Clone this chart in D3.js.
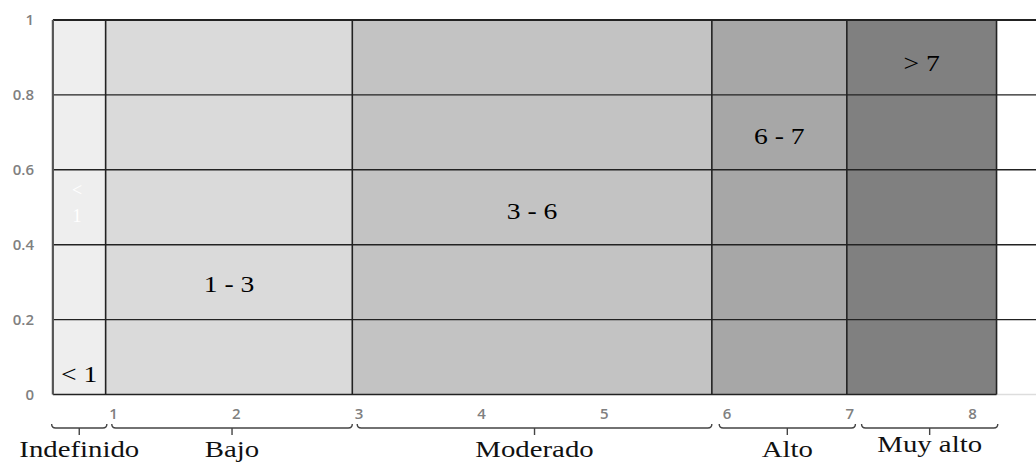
<!DOCTYPE html>
<html>
<head>
<meta charset="utf-8">
<script src="https://cdn.jsdelivr.net/npm/d3@7"></script>
<style>
  body { margin: 0; background: #fff; }
  svg { display: block; }
</style>
</head>
<body>
<svg width="1036" height="462"></svg>
<script>
var svg = d3.select("svg");

var width = 1036,
    height = 462;

// categories and their ranges on the x axis
var categories = ["Indefinido", "Bajo", "Moderado", "Alto", "Muy alto"];
var bandStart = [0.51, 0.94, 2.95, 5.88, 6.98];
var bandEnd = [0.94, 2.95, 5.88, 6.98, 8.2];
var bandColors = ["#eeeeee", "#dadada", "#c3c3c3", "#a7a7a7", "#808080"];

// range labels inside the bands and their height
var rangeLabels = ["< 1", "1 - 3", "3 - 6", "6 - 7", "> 7"];
var rangeLevel = [0.055, 0.295, 0.49, 0.69, 0.885];

// brackets under the axis
var bracketStart = [0.5, 0.99, 2.99, 5.94, 7.1];
var bracketEnd = [0.95, 2.95, 5.88, 7.05, 8.21];

var xTicks = [1, 2, 3, 4, 5, 6, 7, 8];
var yTicks = [0, 0.2, 0.4, 0.6, 0.8, 1];
var yTickLabels = ["0", "0.2", "0.4", "0.6", "0.8", "1"];

var SERIF = "'Liberation Serif', 'Times New Roman', serif";
var SANS = "'Open Sans', sans-serif";
var STRETCH = 1.2;
var LineColor = "#222";

var x = d3.scaleLinear().domain([1, 8]).range([113, 972]);
var y = d3.scaleLinear().domain([0, 1]).range([394.5, 20]);

var bands = categories.map(function (c, i) {
    return { name: c, x0: bandStart[i], x1: bandEnd[i], color: bandColors[i],
             label: rangeLabels[i], level: rangeLevel[i],
             b0: bracketStart[i], b1: bracketEnd[i] };
});

// band fills
svg.append("g")
    .selectAll("rect")
    .data(bands)
    .enter().append("rect")
    .attr("x", function (d) { return x(d.x0); })
    .attr("y", y(1))
    .attr("width", function (d) { return x(d.x1) - x(d.x0); })
    .attr("height", y(0) - y(1))
    .attr("fill", function (d) { return d.color; });

// light continuation of the baseline
svg.append("line")
    .attr("x1", x(bandEnd[4])).attr("x2", width)
    .attr("y1", y(0)).attr("y2", y(0))
    .attr("stroke", "#ddd").attr("stroke-width", 1.5);

// horizontal grid lines
svg.append("g")
    .selectAll("line")
    .data(yTicks.slice(1))
    .enter().append("line")
    .attr("x1", x(bandStart[0]))
    .attr("x2", width)
    .attr("y1", function (d) { return y(d); })
    .attr("y2", function (d) { return y(d); })
    .attr("stroke", LineColor)
    .attr("stroke-width", function (d) { return d === 1 ? 2.2 : 1.4; });

svg.append("line")
    .attr("x1", x(bandStart[0])).attr("x2", x(bandEnd[4]))
    .attr("y1", y(0)).attr("y2", y(0))
    .attr("stroke", LineColor).attr("stroke-width", 1.6);

// vertical band edges
var edges = bandStart.concat([bandEnd[4]]);
svg.append("g")
    .selectAll("line")
    .data(edges)
    .enter().append("line")
    .attr("x1", function (d) { return x(d); })
    .attr("x2", function (d) { return x(d); })
    .attr("y1", y(1))
    .attr("y2", y(0))
    .attr("stroke", function (d, i) { return i === 0 ? "#555" : LineColor; })
    .attr("stroke-width", function (d, i) { return i === 0 ? 2.2 : 1.6; });

// range labels
svg.append("g")
    .selectAll("text")
    .data(bands)
    .enter().append("text")
    .attr("transform", function (d) {
        return "translate(" + x((d.x0 + d.x1) / 2) + "," + y(d.level) + ") scale(" + STRETCH + ",1)";
    })
    .attr("text-anchor", "middle")
    .attr("dy", "0.35em")
    .style("font-family", SERIF)
    .style("font-size", "23px")
    .attr("fill", "#000")
    .text(function (d) { return d.label; });

// faint white "< 1" in the first band
var ghost = svg.append("text")
    .attr("text-anchor", "middle")
    .style("font-family", SERIF)
    .style("font-size", "18px")
    .attr("fill", "#fff");
ghost.append("tspan").attr("x", 77).attr("y", y(0.53)).text("<");
ghost.append("tspan").attr("x", 77).attr("y", y(0.46)).text("1");

// axes
var yAxis = svg.append("g")
    .attr("transform", "translate(35,0)")
    .call(d3.axisLeft(y).tickValues(yTicks)
        .tickFormat(function (d, i) { return yTickLabels[i]; })
        .tickSize(0).tickPadding(1));
yAxis.select(".domain").remove();

var xAxis = svg.append("g")
    .attr("transform", "translate(0," + y(0) + ")")
    .call(d3.axisBottom(x).tickValues(xTicks).tickFormat(d3.format("d"))
        .tickSize(0).tickPadding(14));
xAxis.select(".domain").remove();

[yAxis, xAxis].forEach(function (ax) {
    ax.attr("font-family", SANS).attr("font-size", 15);
    ax.selectAll("text").attr("fill", "#808080").style("font-weight", 600);
});

// brackets
var BY = 428;
function bracketPath(d) {
    var a = x(d.b0), b = x(d.b1);
    return "M" + a + "," + (BY - 4) +
        " Q" + a + "," + BY + " " + (a + 4) + "," + BY +
        " L" + (b - 4) + "," + BY +
        " Q" + b + "," + BY + " " + b + "," + (BY - 4);
}
var brackets = svg.append("g")
    .attr("fill", "none")
    .attr("stroke", "#444")
    .attr("stroke-width", 1.4);
brackets.selectAll("path")
    .data(bands)
    .enter().append("path")
    .attr("d", bracketPath);
brackets.selectAll("line")
    .data(bands)
    .enter().append("line")
    .attr("x1", function (d) { return x((d.b0 + d.b1) / 2); })
    .attr("x2", function (d) { return x((d.b0 + d.b1) / 2); })
    .attr("y1", BY)
    .attr("y2", BY + 7);

// category names
svg.append("g")
    .selectAll("text")
    .data(bands)
    .enter().append("text")
    .attr("transform", function (d, i) {
        var dy = i === 4 ? -5 : 0;
        return "translate(" + x((d.b0 + d.b1) / 2) + "," + (457 + dy) + ") scale(" + STRETCH + ",1)";
    })
    .attr("text-anchor", "middle")
    .style("font-family", SERIF)
    .style("font-size", "24px")
    .attr("fill", "#111")
    .text(function (d) { return d.name; });
</script>
</body>
</html>
